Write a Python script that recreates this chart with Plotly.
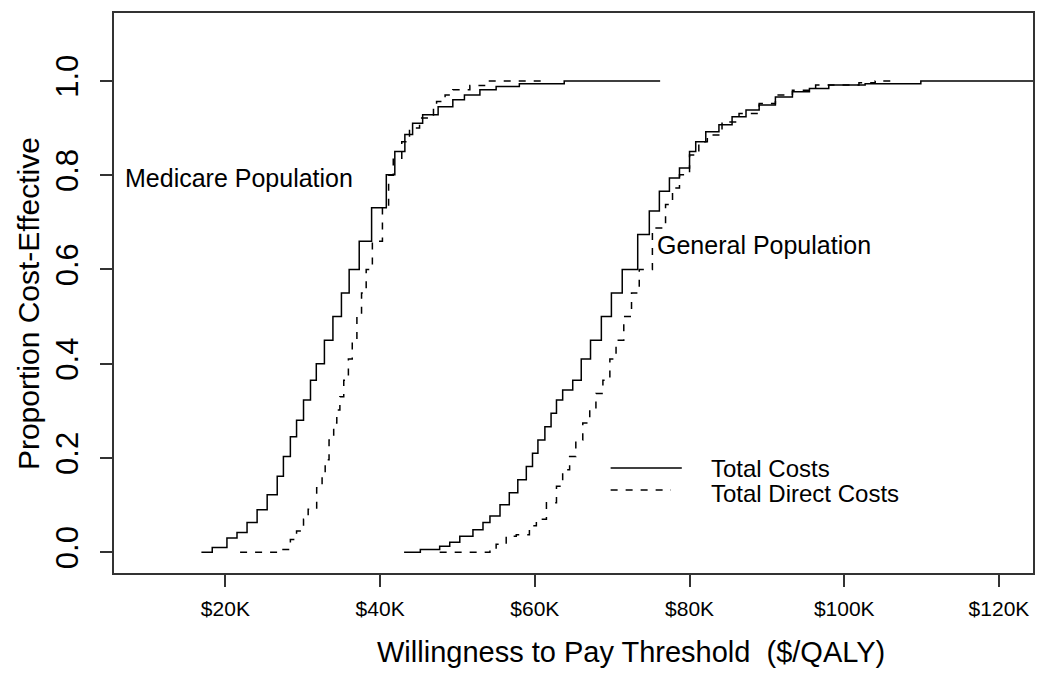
import plotly.graph_objects as go

# Cost-effectiveness acceptability curves, WTP threshold in $K vs proportion cost-effective
medicare_total_wtp = [16.9, 18.3, 20.2, 21.5, 22.8, 24.1, 25.4, 26.7, 27.5, 28.4, 29.2, 30.1, 31.0,
                      31.75, 32.8, 33.9, 35.0, 36.0, 37.3, 38.9, 40.8, 41.9, 43.2, 44.2, 45.5, 47.5,
                      49.4, 50.9, 52.9, 55.0, 58.0, 63.8, 76.2]
medicare_total_prop = [0.0, 0.01, 0.03, 0.042, 0.063, 0.09, 0.122, 0.161, 0.203, 0.245, 0.28, 0.323, 0.365,
                       0.40, 0.45, 0.50, 0.55, 0.60, 0.66, 0.731, 0.801, 0.85, 0.886, 0.91, 0.928, 0.945,
                       0.96, 0.97, 0.981, 0.988, 0.994, 1.0, 1.0]

medicare_direct_wtp = [21.9, 27.1, 28.4, 29.2, 30.1, 30.7, 31.8, 32.5, 32.9, 33.4, 34.0, 34.4, 34.8, 35.3,
                       35.9, 36.4, 37.0, 37.6, 38.2, 39.0, 40.3, 41.1, 41.7, 42.8, 43.8, 45.1, 46.9,
                       47.3, 48.4, 49.4, 51.6, 53.5, 61.0]
medicare_direct_prop = [0.0, 0.006, 0.027, 0.045, 0.07, 0.091, 0.137, 0.169, 0.196, 0.238, 0.274, 0.302, 0.33, 0.365,
                        0.41, 0.45, 0.50, 0.55, 0.60, 0.66, 0.731, 0.80, 0.836, 0.871, 0.90, 0.921, 0.942,
                        0.956, 0.97, 0.981, 0.99, 1.0, 1.0]

general_total_wtp = [43.1, 45.2, 47.7, 49.0, 50.3, 52.0, 53.3, 54.2, 55.5, 56.7, 57.8, 58.9, 59.7, 60.4,
                     61.3, 62.1, 62.8, 63.6, 64.9, 66.0, 67.2, 68.6, 69.9, 71.3, 73.3, 74.8, 76.1, 77.4,
                     78.7, 80.0, 80.8, 82.1, 83.8, 85.5, 87.3, 89.0, 91.1, 93.3, 95.5, 98.0, 102.7,
                     109.9, 130.0]
general_total_prop = [0.0, 0.006, 0.013, 0.021, 0.034, 0.048, 0.063, 0.077, 0.101, 0.126, 0.154, 0.182, 0.21, 0.238,
                      0.266, 0.295, 0.323, 0.344, 0.365, 0.41, 0.45, 0.50, 0.55, 0.60, 0.674, 0.724, 0.766, 0.794,
                      0.815, 0.85, 0.871, 0.892, 0.907, 0.924, 0.938, 0.949, 0.966, 0.977, 0.984, 0.991, 0.994,
                      1.0, 1.0]

general_direct_wtp = [47.7, 54.2, 55.0, 56.3, 57.6, 59.3, 60.2, 61.5, 62.8, 63.6, 64.5, 65.3, 66.2, 67.1,
                      67.9, 68.8, 69.7, 70.5, 71.5, 72.5, 73.5, 75.2, 76.9, 77.8, 78.7, 80.0, 81.2, 82.3,
                      84.2, 86.4, 89.0, 91.1, 93.3, 96.3, 101.9, 104.0, 106.4]
general_direct_prop = [0.0, 0.006, 0.017, 0.034, 0.037, 0.056, 0.07, 0.105, 0.14, 0.175, 0.203, 0.238, 0.274, 0.302,
                       0.337, 0.365, 0.41, 0.45, 0.50, 0.55, 0.60, 0.688, 0.738, 0.773, 0.801, 0.843, 0.871, 0.885,
                       0.913, 0.931, 0.952, 0.97, 0.98, 0.991, 0.996, 1.0, 1.0]

x_ticks = [20, 40, 60, 80, 100, 120]
x_tick_labels = ["$20K", "$40K", "$60K", "$80K", "$100K", "$120K"]
y_ticks = [0.0, 0.2, 0.4, 0.6, 0.8, 1.0]
y_tick_labels = ["0.0", "0.2", "0.4", "0.6", "0.8", "1.0"]

legend_labels = ["Total Costs", "Total Direct Costs"]

DASH = "7px,8px"
SANS = "Liberation Sans, Arial, sans-serif"

fig = go.Figure()

curves = [
    (medicare_total_wtp, medicare_total_prop, "solid"),
    (medicare_direct_wtp, medicare_direct_prop, DASH),
    (general_total_wtp, general_total_prop, "solid"),
    (general_direct_wtp, general_direct_prop, DASH),
]
for wtp, prop, dash in curves:
    fig.add_trace(go.Scatter(
        x=[v * 1000 for v in wtp], y=prop,
        mode="lines", line_shape="hv",
        line=dict(color="black", width=1.5, dash=dash),
        showlegend=False, hoverinfo="skip",
    ))

# R-style legend: line keys with text to the right
fig.add_shape(type="line", xref="x", yref="y", x0=69800, x1=79000, y0=0.179, y1=0.179,
              line=dict(color="black", width=1.5))
fig.add_shape(type="line", xref="x", yref="y", x0=69800, x1=77600, y0=0.132, y1=0.132,
              line=dict(color="black", width=1.5, dash=DASH))
for label, y in zip(legend_labels, [0.178, 0.124]):
    fig.add_annotation(x=82500, y=y, xref="x", yref="y", text=label, showarrow=False,
                       xanchor="left", yanchor="middle", font=dict(family=SANS, size=24, color="black"))

fig.add_annotation(x=21700, y=0.795, xref="x", yref="y", text="Medicare Population", showarrow=False,
                   xanchor="center", yanchor="middle", font=dict(family=SANS, size=25, color="black"))
fig.add_annotation(x=89600, y=0.652, xref="x", yref="y", text="General Population", showarrow=False,
                   xanchor="center", yanchor="middle", font=dict(family=SANS, size=25, color="black"))

# axis titles
fig.add_annotation(x=0.5626, y=-0.1406, xref="paper", yref="paper",
                   text="Willingness to Pay Threshold  ($/QALY)", showarrow=False,
                   xanchor="center", yanchor="middle", font=dict(family=SANS, size=29, color="black"))
fig.add_annotation(x=-0.0936, y=0.482, xref="paper", yref="paper", textangle=-90,
                   text="Proportion Cost-Effective", showarrow=False,
                   xanchor="center", yanchor="middle", font=dict(family=SANS, size=30, color="black"))

axis_common = dict(showline=True, mirror=True, linecolor="#333", linewidth=1.5,
                   ticks="outside", ticklen=12, tickwidth=1.5, tickcolor="#333",
                   showgrid=False, zeroline=False)

# page body adds an 8px offset, so margins are trimmed to keep the box where it belongs
fig.update_layout(
    width=1050, height=686,
    margin=dict(l=106, r=25, t=3, b=121),
    plot_bgcolor="white", paper_bgcolor="white",
    xaxis=dict(range=[5600, 124400], tickvals=[v * 1000 for v in x_ticks], ticktext=x_tick_labels,
               tickfont=dict(family=SANS, size=21, color="black"), ticklabelstandoff=4,
               **axis_common),
    yaxis=dict(range=[-0.044, 1.144], tickvals=y_ticks, ticktext=y_tick_labels, tickangle=-90,
               tickfont=dict(family=SANS, size=31, color="black"), ticklabelstandoff=10,
               **axis_common),
)

fig.write_html("out.html")
